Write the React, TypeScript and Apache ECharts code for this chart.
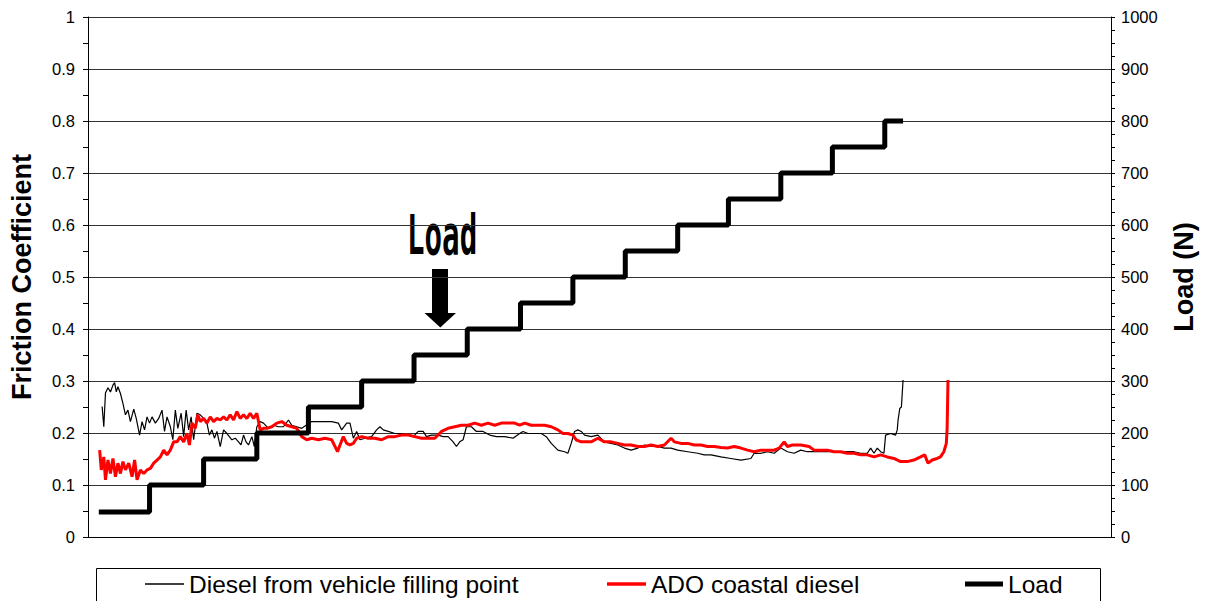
import React, { useEffect, useRef } from "react";
import * as echarts from "echarts";

// time axis (arbitrary seconds, no labels shown)
const xMin = 0;
const xMax = 1230;

const dieselT = [17, 19, 21, 24, 27, 30, 32, 34, 36, 39, 42, 45, 48, 51, 55, 58, 62, 65, 68, 71, 74, 77, 81, 85, 89, 92, 95, 99, 102, 105, 108, 112, 115, 118, 121, 124, 127, 131, 135, 139, 143, 146, 149, 152, 155, 159, 163, 167, 170, 173, 177, 181, 184, 187, 190, 193, 197, 200, 203, 207, 211, 217, 223, 229, 235, 241, 245, 251, 257, 269, 281, 293, 301, 305, 311, 315, 319, 323, 327, 333, 341, 347, 351, 355, 361, 369, 377, 385, 391, 397, 403, 407, 413, 421, 427, 433, 439, 443, 447, 451, 455, 461, 467, 475, 483, 491, 501, 511, 519, 523, 529, 537, 545, 551, 557, 565, 573, 577, 581, 585, 589, 593, 597, 605, 613, 621, 629, 637, 645, 653, 661, 669, 677, 685, 693, 701, 709, 721, 733, 741, 749, 761, 773, 785, 797, 801, 809, 817, 825, 833, 841, 849, 857, 865, 877, 889, 901, 913, 921, 929, 937, 941, 945, 949, 953, 957, 959, 965, 971, 973, 974, 976, 978, 980];
const dieselMu = [0.251, 0.212, 0.277, 0.287, 0.279, 0.292, 0.297, 0.279, 0.289, 0.276, 0.257, 0.235, 0.244, 0.222, 0.246, 0.228, 0.196, 0.222, 0.206, 0.231, 0.219, 0.231, 0.219, 0.228, 0.244, 0.203, 0.231, 0.212, 0.187, 0.244, 0.209, 0.238, 0.193, 0.244, 0.206, 0.231, 0.187, 0.238, 0.235, 0.228, 0.219, 0.196, 0.206, 0.19, 0.203, 0.174, 0.206, 0.199, 0.193, 0.187, 0.19, 0.183, 0.177, 0.196, 0.183, 0.177, 0.193, 0.174, 0.212, 0.222, 0.219, 0.209, 0.215, 0.212, 0.212, 0.225, 0.215, 0.212, 0.209, 0.222, 0.222, 0.222, 0.219, 0.206, 0.219, 0.219, 0.19, 0.203, 0.187, 0.19, 0.193, 0.206, 0.212, 0.206, 0.203, 0.199, 0.199, 0.196, 0.193, 0.203, 0.203, 0.193, 0.196, 0.196, 0.193, 0.193, 0.183, 0.174, 0.183, 0.187, 0.212, 0.212, 0.203, 0.203, 0.196, 0.193, 0.193, 0.19, 0.199, 0.203, 0.199, 0.199, 0.199, 0.193, 0.18, 0.167, 0.164, 0.161, 0.18, 0.203, 0.206, 0.203, 0.196, 0.193, 0.196, 0.183, 0.18, 0.177, 0.171, 0.167, 0.171, 0.177, 0.174, 0.174, 0.171, 0.171, 0.167, 0.164, 0.161, 0.158, 0.158, 0.154, 0.151, 0.148, 0.151, 0.161, 0.161, 0.164, 0.161, 0.171, 0.164, 0.161, 0.167, 0.164, 0.164, 0.164, 0.164, 0.164, 0.164, 0.161, 0.161, 0.171, 0.161, 0.171, 0.164, 0.161, 0.196, 0.199, 0.196, 0.206, 0.225, 0.247, 0.25, 0.302];

const adoT = [14, 16, 19, 21, 24, 27, 30, 33, 36, 39, 42, 45, 49, 53, 56, 59, 63, 67, 71, 75, 79, 83, 87, 91, 95, 99, 103, 107, 111, 115, 119, 122, 125, 129, 132, 135, 139, 143, 147, 151, 155, 159, 163, 167, 171, 175, 179, 183, 187, 191, 195, 199, 203, 207, 211, 215, 221, 227, 233, 239, 245, 251, 257, 263, 269, 277, 285, 293, 297, 300, 303, 307, 311, 315, 319, 323, 329, 337, 345, 353, 361, 369, 377, 385, 393, 401, 409, 417, 425, 433, 441, 449, 457, 465, 473, 481, 489, 497, 505, 513, 519, 525, 533, 541, 549, 557, 565, 571, 577, 583, 587, 593, 599, 605, 613, 621, 629, 637, 645, 653, 661, 669, 677, 685, 693, 701, 705, 713, 721, 729, 737, 745, 753, 761, 769, 777, 785, 793, 801, 809, 817, 825, 831, 837, 841, 847, 857, 867, 873, 881, 889, 897, 905, 913, 921, 929, 937, 945, 953, 961, 969, 977, 985, 993, 1001, 1006, 1010, 1015, 1021, 1025, 1029, 1032, 1033, 1034];
const adoMu = [0.167, 0.129, 0.154, 0.11, 0.148, 0.122, 0.151, 0.116, 0.142, 0.122, 0.145, 0.129, 0.142, 0.116, 0.148, 0.11, 0.129, 0.122, 0.129, 0.132, 0.142, 0.148, 0.154, 0.167, 0.158, 0.167, 0.183, 0.183, 0.193, 0.183, 0.199, 0.177, 0.219, 0.209, 0.235, 0.222, 0.228, 0.219, 0.231, 0.222, 0.228, 0.225, 0.231, 0.225, 0.235, 0.225, 0.241, 0.228, 0.235, 0.228, 0.238, 0.228, 0.238, 0.206, 0.209, 0.209, 0.212, 0.219, 0.222, 0.215, 0.212, 0.209, 0.193, 0.187, 0.19, 0.187, 0.19, 0.187, 0.174, 0.164, 0.177, 0.193, 0.18, 0.177, 0.18, 0.19, 0.193, 0.19, 0.19, 0.187, 0.193, 0.193, 0.196, 0.196, 0.193, 0.19, 0.19, 0.19, 0.203, 0.209, 0.212, 0.215, 0.215, 0.219, 0.215, 0.219, 0.215, 0.219, 0.219, 0.219, 0.215, 0.219, 0.215, 0.215, 0.215, 0.212, 0.206, 0.199, 0.199, 0.196, 0.187, 0.183, 0.183, 0.183, 0.19, 0.183, 0.183, 0.18, 0.177, 0.177, 0.174, 0.174, 0.177, 0.174, 0.177, 0.19, 0.183, 0.18, 0.18, 0.177, 0.177, 0.174, 0.174, 0.172, 0.171, 0.174, 0.171, 0.167, 0.164, 0.167, 0.167, 0.167, 0.171, 0.183, 0.174, 0.177, 0.177, 0.174, 0.167, 0.167, 0.167, 0.164, 0.164, 0.161, 0.161, 0.158, 0.158, 0.154, 0.158, 0.154, 0.151, 0.145, 0.145, 0.148, 0.154, 0.158, 0.142, 0.148, 0.151, 0.154, 0.164, 0.18, 0.21, 0.302];

// Load steps: time at which each level begins (last entry = end of test)
const loadT = [13, 74, 139, 203, 265, 329, 392, 456, 520, 583, 646, 709, 770, 833, 895, 958, 980];
const loadN = [48, 100, 150, 200, 250, 300, 350, 400, 450, 500, 550, 600, 650, 700, 750, 800, 800];

const frictionTicks = [0, 0.1, 0.2, 0.3, 0.4, 0.5, 0.6, 0.7, 0.8, 0.9, 1];
const loadTicks = [0, 100, 200, 300, 400, 500, 600, 700, 800, 900, 1000];

const seriesNames = ["Diesel from vehicle filling point", "ADO coastal diesel", "Load"];

const pairs = (xs: number[], ys: number[]) => xs.map((x, i) => [x, ys[i]]);

const SANS = "'Liberation Sans', Arial, sans-serif";

export default function App() {
  const ref = useRef<HTMLDivElement>(null);

  useEffect(() => {
    const chart = echarts.init(ref.current!, null, { renderer: "svg" });
    const legendBase = {
      orient: "horizontal" as const,
      top: 571,
      icon: "rect",
      selectedMode: false,
      padding: 0,
      textStyle: { fontFamily: SANS, fontSize: 24.5, color: "#000", lineHeight: 26 },
    };
    chart.setOption({
      animation: false,
      backgroundColor: "#fff",
      grid: { left: 86, right: 97, top: 17, bottom: 64, containLabel: false },
      xAxis: {
        type: "value",
        min: xMin,
        max: xMax,
        axisLabel: { show: false },
        axisTick: { show: false },
        splitLine: { show: false },
        axisLine: { show: true, onZero: false, lineStyle: { color: "#000", width: 1 } },
      },
      yAxis: [
        {
          type: "value",
          position: "left",
          min: frictionTicks[0],
          max: frictionTicks[frictionTicks.length - 1],
          interval: 0.1,
          name: "Friction Coefficient",
          nameLocation: "middle",
          nameGap: 53,
          nameTextStyle: { fontFamily: SANS, fontSize: 27, fontWeight: "bold", color: "#000" },
          axisLine: { show: true, lineStyle: { color: "#000", width: 1 } },
          axisTick: { show: true, length: 5, lineStyle: { color: "#000" } },
          minorTick: { show: true, splitNumber: 2, length: 5, lineStyle: { color: "#000" } },
          axisLabel: {
            margin: 13,
            fontFamily: SANS,
            fontSize: 16.5,
            color: "#000",
            formatter: (v: number) => String(Math.round(v * 10) / 10),
          },
          splitLine: { show: true, lineStyle: { color: "#333", width: 1 } },
        },
        {
          type: "value",
          position: "right",
          min: loadTicks[0],
          max: loadTicks[loadTicks.length - 1],
          interval: 100,
          name: "Load (N)",
          nameLocation: "middle",
          nameGap: 59,
          nameRotate: 90,
          nameTextStyle: { fontFamily: SANS, fontSize: 27, fontWeight: "bold", color: "#000" },
          axisLine: { show: true, lineStyle: { color: "#000", width: 1 } },
          axisTick: { show: true, length: 4, lineStyle: { color: "#000" } },
          minorTick: { show: true, splitNumber: 4, length: 4, lineStyle: { color: "#000" } },
          axisLabel: {
            margin: 10,
            fontFamily: SANS,
            fontSize: 16.5,
            color: "#000",
            formatter: (v: number) => String(v),
          },
          splitLine: { show: false },
        },
      ],
      legend: [
        { ...legendBase, left: 145, itemWidth: 39, itemHeight: 1.5, data: [seriesNames[0]] },
        { ...legendBase, left: 607, itemWidth: 39, itemHeight: 3.5, data: [seriesNames[1]] },
        { ...legendBase, left: 965, itemWidth: 38, itemHeight: 5, data: [seriesNames[2]] },
      ],
      series: [
        {
          name: seriesNames[0],
          type: "line",
          yAxisIndex: 0,
          data: pairs(dieselT, dieselMu),
          showSymbol: false,
          symbol: "none",
          color: "#000",
          lineStyle: { color: "#000", width: 1.2 },
          z: 2,
        },
        {
          name: seriesNames[1],
          type: "line",
          yAxisIndex: 0,
          data: pairs(adoT, adoMu),
          showSymbol: false,
          symbol: "none",
          color: "#ff0000",
          lineStyle: { color: "#ff0000", width: 3 },
          z: 3,
        },
        {
          name: seriesNames[2],
          type: "line",
          yAxisIndex: 1,
          step: "end",
          data: pairs(loadT, loadN),
          showSymbol: false,
          symbol: "none",
          color: "#000",
          lineStyle: { color: "#000", width: 5 },
          z: 4,
        },
      ],
      graphic: [
        {
          type: "rect",
          shape: { x: 96.5, y: 568.5, width: 1004, height: 40 },
          style: { fill: "none", stroke: "#000", lineWidth: 1 },
          silent: true,
        },
        {
          type: "text",
          x: 407,
          y: 235,
          scaleX: 0.53,
          style: {
            text: "Load",
            fontFamily: "'DejaVu Sans Mono', monospace",
            fontWeight: "bold",
            fontSize: 55,
            fill: "#000",
            align: "left",
            verticalAlign: "middle",
          },
          silent: true,
        },
        {
          type: "rect",
          shape: { x: 432, y: 269, width: 16, height: 45 },
          style: { fill: "#000" },
          silent: true,
        },
        {
          type: "polygon",
          shape: { points: [[424.5, 313], [456, 313], [440.3, 327.5]] },
          style: { fill: "#000" },
          silent: true,
        },
      ],
    });
    return () => chart.dispose();
  }, []);

  return (
    <div
      ref={ref}
      style={{ position: "fixed", left: 0, top: 0, width: 1208, height: 601, background: "#fff" }}
    />
  );
}
